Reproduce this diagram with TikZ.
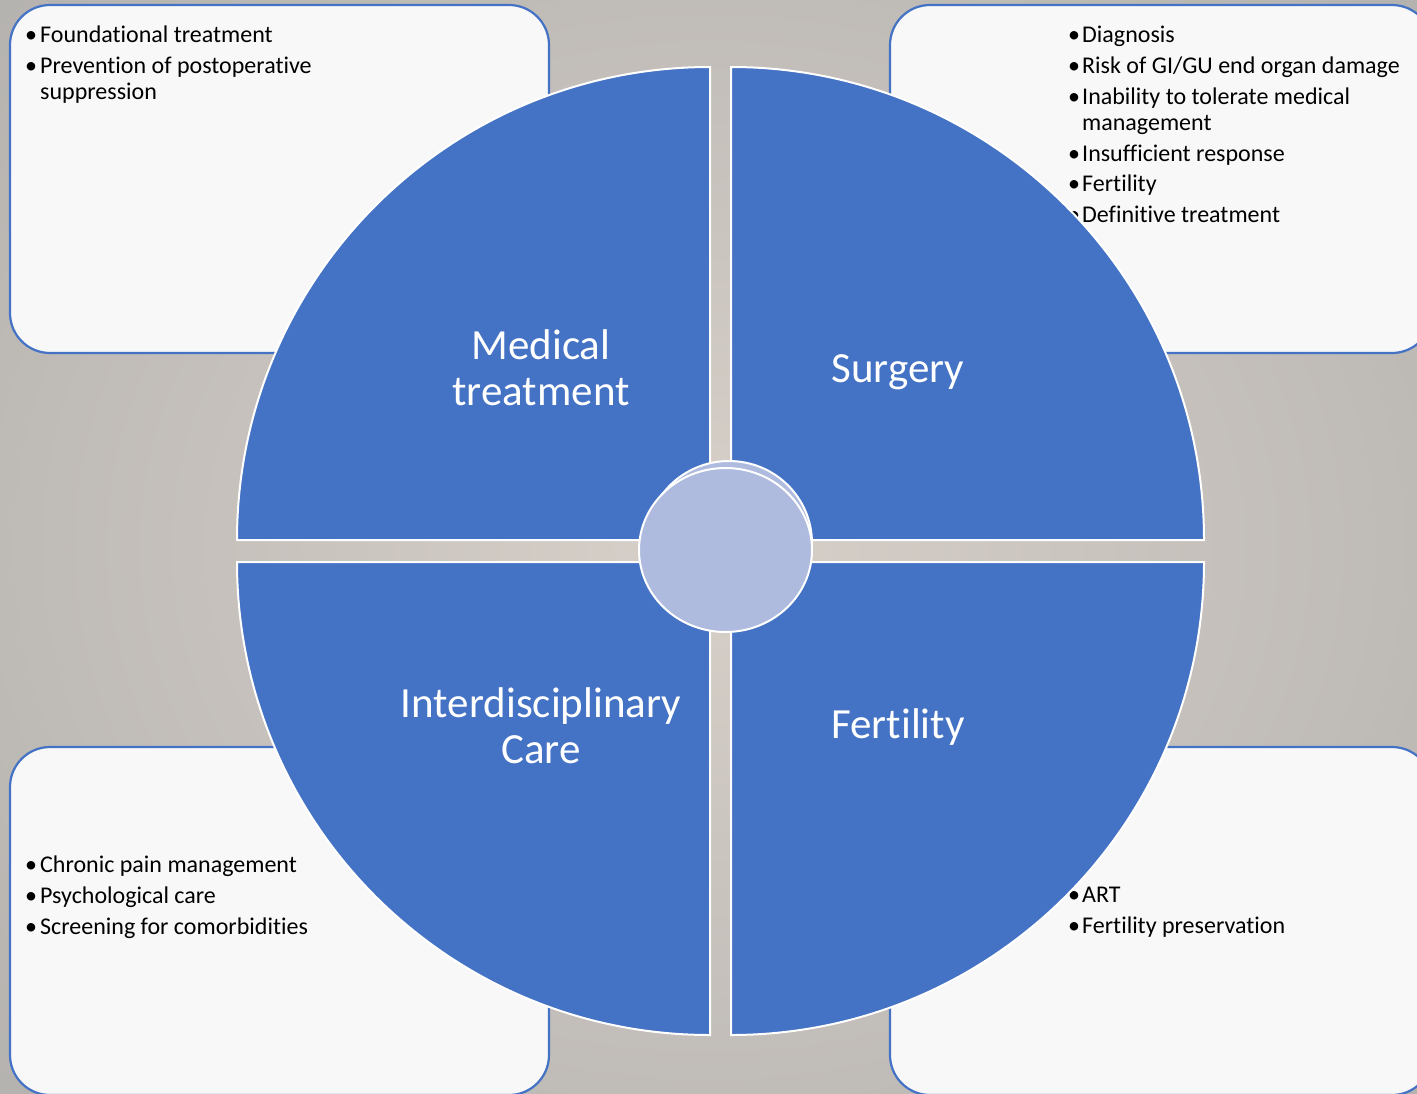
\documentclass[tikz,border=0pt]{standalone}
\usepackage{fontspec}
\setmainfont[Ligatures={NoCommon}]{Carlito}
\definecolor{blu}{HTML}{4472C4}
\definecolor{ctr}{HTML}{AEBBDE}
\definecolor{boxfill}{HTML}{F8F8F8}
\definecolor{bgin}{HTML}{D8D0C9}
\definecolor{bgout}{HTML}{B3B1AE}
\tikzset{
  infobox/.style={draw=blu, line width=2.2pt, fill=boxfill, rounded corners=40pt},
  sector/.style={fill=blu, draw=white, line width=2pt},
  item/.style={anchor=base west, inner sep=0pt, font=\fontsize{24}{28}\selectfont, text=black},
  label/.style={anchor=base, inner sep=0pt, font=\fontsize{43}{50}\selectfont, text=white},
  hub/.style={fill=ctr, draw=white, line width=2pt}
}
\begin{document}
\begin{tikzpicture}[x=1pt,y=1pt]
\useasboundingbox (0,0) rectangle (1417,-1093);
% background
\shade[inner color=bgin, outer color=bgout] (-300,300) rectangle (1717,-1393);
% info boxes
\draw[infobox] (10,-5) rectangle (549,-353);
\draw[infobox] (890,-5) rectangle (1432,-353);
\draw[infobox] (10,-747) rectangle (549,-1095);
\draw[infobox] (890,-747) rectangle (1432,-1095);
% top-left texts
\node[item] (tl1b) at (25,-42) {•};
\node[item] (tl1) at (40,-42) {Foundational treatment};
\node[item] (tl2b) at (25,-73) {•};
\node[item] (tl2) at (40,-73) {Prevention of postoperative};
\node[item] (tl2c) at (40,-99) {suppression};
% top-right texts
\node[item] (tr1b) at (1068,-42) {•};
\node[item] (tr1) at (1082,-42) {Diagnosis};
\node[item] (tr2b) at (1068,-73) {•};
\node[item] (tr2) at (1082,-73) {Risk of GI/GU end organ damage};
\node[item] (tr3b) at (1068,-104) {•};
\node[item] (tr3) at (1082,-104) {Inability to tolerate medical};
\node[item] (tr3c) at (1082,-130) {management};
\node[item] (tr4b) at (1068,-161) {•};
\node[item] (tr4) at (1082,-161) {Insufficient response};
\node[item] (tr5b) at (1068,-191) {•};
\node[item] (tr5) at (1082,-191) {Fertility};
\node[item] (tr6b) at (1068,-222) {•};
\node[item] (tr6) at (1082,-222) {Definitive treatment};
% bottom-left texts
\node[item] (bl1b) at (25,-872) {•};
\node[item] (bl1) at (40,-872) {Chronic pain management};
\node[item] (bl2b) at (25,-903) {•};
\node[item] (bl2) at (40,-903) {Psychological care};
\node[item] (bl3b) at (25,-934) {•};
\node[item] (bl3) at (40,-934) {Screening for comorbidities};
% bottom-right texts
\node[item] (br1b) at (1068,-902) {•};
\node[item] (br1) at (1082,-902) {ART};
\node[item] (br2b) at (1068,-933) {•};
\node[item] (br2) at (1082,-933) {Fertility preservation};
% sectors
\draw[sector] (710,-540) -- (710,-67) arc[start angle=90, end angle=180, radius=473] -- cycle;
\draw[sector] (731,-540) -- (1204,-540) arc[start angle=0, end angle=90, radius=473] -- cycle;
\draw[sector] (710,-562) -- (237,-562) arc[start angle=180, end angle=270, radius=473] -- cycle;
\draw[sector] (731,-562) -- (731,-1035) arc[start angle=270, end angle=360, radius=473] -- cycle;
% labels
\node[label] (med1) at (541,-359) {Medical};
\node[label] (med2) at (541,-405) {treatment};
\node[label] (surg) at (898,-382) {Surgery};
\node[label] (int1) at (541,-717) {Interdisciplinary};
\node[label] (int2) at (541,-763) {Care};
\node[label] (fert) at (898,-738) {Fertility};
% hub
\draw[hub] (729,-543) ellipse[x radius=83, y radius=82];
\draw[hub] (725.5,-550) ellipse[x radius=86.5, y radius=82];
\node[inner sep=0pt] (hubc) at (725.5,-550) {};
\end{tikzpicture}
\end{document}
